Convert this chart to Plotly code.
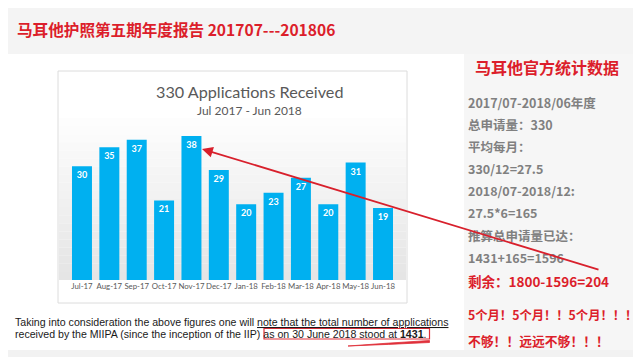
import plotly.graph_objects as go

W, H = 641, 357

months = ["Jul-17", "Aug-17", "Sep-17", "Oct-17", "Nov-17", "Dec-17",
          "Jan-18", "Feb-18", "Mar-18", "Apr-18", "May-18", "Jun-18"]
applications = [30, 35, 37, 21, 38, 29, 20, 23, 27, 20, 31, 19]

chart_title = "330 Applications Received"
chart_subtitle = "Jul 2017 - Jun 2018"
page_title = "马耳他护照第五期年度报告 201707---201806"
panel_title = "马耳他官方统计数据"
panel_gray_lines = ["2017/07-2018/06年度", "总申请量：330", "平均每月：",
                    "330/12=27.5", "2018/07-2018/12:", "27.5*6=165",
                    "推算总申请量已达：", "1431+165=1596"]
panel_red_lines = ["剩余：1800-1596=204", "5个月！5个月！！5个月！！！", "不够！！远远不够！！！"]
footer_line1 = "Taking into consideration the above figures one will <u>note that the total number of applications</u>"
footer_line2 = "received by the MIIPA (since the inception of the IIP) as on 30 June 2018 stood at <b>1431</b>."


def X(p):
    return p / W


def Y(p):
    return 1 - p / H


RED = "#dc1e2b"
GRAY = "#808080"
CJK = "Noto Sans CJK SC"

fig = go.Figure()
fig.add_trace(go.Bar(
    x=months, y=applications,
    marker=dict(color="#00b0f0", line=dict(width=0)),
    text=[str(v) for v in applications],
    textposition="inside", insidetextanchor="end",
    textfont=dict(color="white", size=9, family="Lato", weight="bold"),
    textangle=0, constraintext="none",
    hoverinfo="skip",
))

shapes = []
# page background areas
shapes.append(dict(type="rect", xref="paper", yref="paper", x0=0, x1=1, y0=Y(0), y1=Y(46),
                   fillcolor="#f4f4f4", line=dict(width=0), layer="below"))
shapes.append(dict(type="rect", xref="paper", yref="paper", x0=X(456), x1=1, y0=Y(46), y1=Y(342),
                   fillcolor="#f6f6f6", line=dict(width=0), layer="below"))
shapes.append(dict(type="rect", xref="paper", yref="paper", x0=0, x1=1, y0=Y(342), y1=0,
                   fillcolor="#f2f2f2", line=dict(width=0), layer="below"))
# chart box
shapes.append(dict(type="rect", xref="paper", yref="paper", x0=X(50), x1=X(399), y0=Y(63), y1=Y(295),
                   fillcolor="white", line=dict(width=0), layer="below"))
# gradient bands
n = 20
top, bot = 110, 272
for i in range(n):
    y0 = top + (bot - top) * i / n
    y1 = top + (bot - top) * (i + 1) / n
    g = int(255 - 26 * (i + 1) / n)
    shapes.append(dict(type="rect", xref="paper", yref="paper", x0=X(51), x1=X(398), y0=Y(y0), y1=Y(y1),
                       fillcolor=f"rgb({g},{g},{g})", line=dict(width=0), layer="below"))
shapes.append(dict(type="rect", xref="paper", yref="paper", x0=X(50), x1=X(399), y0=Y(63), y1=Y(295),
                   fillcolor="rgba(0,0,0,0)", line=dict(width=1, color="#dcdcdc"), layer="below"))
# red box around footer phrase
shapes.append(dict(type="rect", xref="paper", yref="paper", x0=X(256), x1=X(421.5), y0=Y(320.5), y1=Y(331),
                   fillcolor="rgba(0,0,0,0)", line=dict(width=1.2, color="#e0303a"), layer="above"))
# red swoosh under
x_a, x_b = X(340), X(421.5)
shapes.append(dict(type="path", xref="paper", yref="paper",
                   path=f"M {x_a},{Y(338)} Q {X(380)},{Y(335)} {x_b},{Y(332.5)} L {x_b},{Y(334.5)} Q {X(380)},{Y(336.5)} {x_a},{Y(338)} Z",
                   fillcolor="#e0303a", line=dict(width=0.8, color="#e0303a"), layer="above"))

ann = []
ann.append(dict(text=f"<b>{page_title}</b>", x=X(7), y=Y(21), xref="paper", yref="paper",
                xanchor="left", yanchor="middle", showarrow=False,
                font=dict(family=CJK, size=15.6, color=RED)))
ann.append(dict(text=chart_title, x=X(241), y=Y(83), xref="paper", yref="paper",
                xanchor="center", yanchor="middle", showarrow=False,
                font=dict(family="Lato", size=16.2, color="#595959")))
ann.append(dict(text=chart_subtitle, x=X(241), y=Y(102), xref="paper", yref="paper",
                xanchor="center", yanchor="middle", showarrow=False,
                font=dict(family="Lato", size=12, color="#595959")))
ann.append(dict(text=f"<b>{panel_title}</b>", x=X(465), y=Y(59), xref="paper", yref="paper",
                xanchor="left", yanchor="middle", showarrow=False,
                font=dict(family=CJK, size=16, color=RED)))
gray_y = [95, 117, 139, 161, 183, 205, 227, 250]
for t, yy in zip(panel_gray_lines, gray_y):
    ann.append(dict(text=f"<b>{t}</b>", x=X(458), y=Y(yy), xref="paper", yref="paper",
                    xanchor="left", yanchor="middle", showarrow=False,
                    font=dict(family=CJK, size=12.5, color=GRAY)))
red_y = [273, 307, 332]
red_sizes = [13.5, 12.3, 12.8]
for t, yy, s in zip(panel_red_lines, red_y, red_sizes):
    ann.append(dict(text=f"<b>{t}</b>", x=X(458), y=Y(yy), xref="paper", yref="paper",
                    xanchor="left", yanchor="middle", showarrow=False,
                    font=dict(family=CJK, size=s, color=RED)))
ann.append(dict(text=footer_line1, x=X(5), y=Y(314), xref="paper", yref="paper",
                xanchor="left", yanchor="middle", showarrow=False,
                font=dict(family="Liberation Sans", size=10.6, color="#1a1a1a")))
ann.append(dict(text=footer_line2, x=X(5), y=Y(326), xref="paper", yref="paper",
                xanchor="left", yanchor="middle", showarrow=False,
                font=dict(family="Liberation Sans", size=10.6, color="#1a1a1a")))
# red arrow pointing at the Nov-17 bar
ann.append(dict(text="", x=X(194), y=Y(141), xref="paper", yref="paper",
                ax=592 - 194, ay=262 - 141, axref="pixel", ayref="pixel",
                showarrow=True, arrowhead=2, arrowsize=1.2, arrowwidth=1.8,
                arrowcolor="#d8202c", standoff=0))

fig.update_layout(
    width=W, height=H,
    margin=dict(l=0, r=0, t=0, b=0),
    paper_bgcolor="white", plot_bgcolor="rgba(0,0,0,0)",
    showlegend=False, bargap=0.27,
    shapes=shapes, annotations=ann,
    xaxis=dict(domain=[X(60.3), X(388.7)], range=[-0.5, 11.5], showgrid=False, zeroline=False,
               showline=False, ticks="", tickangle=0,
               tickfont=dict(family="Lato", size=7.8, color="#595959"),
               fixedrange=True),
    yaxis=dict(domain=[Y(272), Y(120.4)], range=[0, 40], visible=False, fixedrange=True),
)

fig.write_html("out.html")
